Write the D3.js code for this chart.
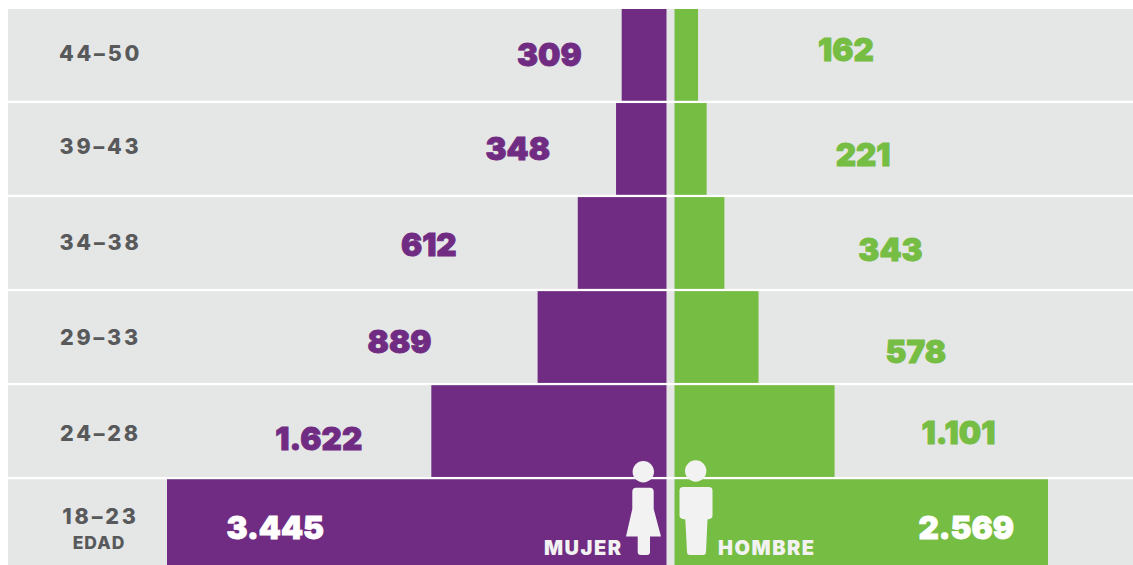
<!DOCTYPE html>
<html>
<head>
<meta charset="utf-8">
<style>
html, body { margin: 0; padding: 0; background: #fff; overflow: hidden; }
svg { display: block; }
.val { font-family: Inter, sans-serif; font-weight: 900; font-size: 31.5px; stroke-width: 0.9px; }
.age { font-family: Inter, sans-serif; font-weight: 800; font-size: 21.5px; fill: #58595b; letter-spacing: 2.8px; text-anchor: middle; }
.lbl { font-family: Inter, sans-serif; font-weight: 900; font-size: 20px; letter-spacing: 1.5px; }
</style>
</head>
<body>
<svg id="chart" width="1133" height="565"></svg>
<script src="https://cdn.jsdelivr.net/npm/d3@7"></script>
<script>
const ages = ["44-50", "39-43", "34-38", "29-33", "24-28", "18-23"];
const mujer = [309, 348, 612, 889, 1622, 3445];
const hombre = [162, 221, 343, 578, 1101, 2569];

const purple = "#702c82", green = "#76bd43", grey = "#e5e6e6", icon = "#f1f2f1";
const fmt = d3.formatLocale({decimal: ",", thousands: ".", grouping: [3], currency: ["", ""]}).format(",");

// label nudges, the original labels are not on a regular grid
const mujerGap = [40, 66, 121, 106, 69, -157];
const hombreGap = [120, 129, 134, 127, 87, -129.5];
const mujerDy = [0, 0.5, 2.5, 5, 8, 2.5];
const hombreDy = [-5, 6.5, 7.5, 15, 2, 2.5];
const ageDy = [-1, -2, 0, 0, 2, -8.5];

const svg = d3.select("#chart");

const y = d3.scaleBand().domain(ages).range([9, 571]).paddingInner(2.3 / 94);
const xM = d3.scaleLinear().domain([0, 3445]).range([666.5, 167]);
const xH = d3.scaleLinear().domain([0, 2569]).range([674.5, 1048]);

// Grey rows
svg.selectAll(".row")
  .data(ages)
  .enter()
  .append("rect")
  .attr("x", 8)
  .attr("y", d => y(d))
  .attr("width", 1125)
  .attr("height", y.bandwidth())
  .attr("fill", grey);

// Bars
svg.selectAll(".bar-m")
  .data(mujer)
  .enter()
  .append("rect")
  .attr("x", d => xM(d))
  .attr("y", (d, i) => y(ages[i]))
  .attr("width", d => xM(0) - xM(d))
  .attr("height", y.bandwidth())
  .attr("fill", purple);

svg.selectAll(".bar-h")
  .data(hombre)
  .enter()
  .append("rect")
  .attr("x", xH(0))
  .attr("y", (d, i) => y(ages[i]))
  .attr("width", d => xH(d) - xH(0))
  .attr("height", y.bandwidth())
  .attr("fill", green);

// Values
const rowMid = i => y(ages[i]) + y.bandwidth() / 2;
const insideRow = ages.length - 1;

svg.selectAll(".val-m")
  .data(mujer)
  .enter()
  .append("text")
  .attr("class", "val")
  .attr("x", (d, i) => xM(d) - mujerGap[i])
  .attr("y", (d, i) => rowMid(i) + mujerDy[i])
  .attr("dy", "0.35em")
  .attr("text-anchor", "end")
  .attr("fill", (d, i) => i === insideRow ? "#fff" : purple)
  .attr("stroke", (d, i) => i === insideRow ? "#fff" : purple)
  .text(d => fmt(d));

svg.selectAll(".val-h")
  .data(hombre)
  .enter()
  .append("text")
  .attr("class", "val")
  .attr("x", (d, i) => xH(d) + hombreGap[i])
  .attr("y", (d, i) => rowMid(i) + hombreDy[i])
  .attr("dy", "0.35em")
  .attr("fill", (d, i) => i === insideRow ? "#fff" : green)
  .attr("stroke", (d, i) => i === insideRow ? "#fff" : green)
  .text(d => fmt(d));

// Age labels
svg.selectAll(".age")
  .data(ages)
  .enter()
  .append("text")
  .attr("class", "age")
  .attr("x", 100.5)
  .attr("y", (d, i) => rowMid(i) + ageDy[i])
  .attr("dy", "0.35em")
  .text(d => d.replace("-", "\u2013"));

svg.append("text").attr("x", 99).attr("y", 549)
  .attr("text-anchor", "middle")
  .attr("font-family", "Inter, sans-serif").attr("font-weight", 800)
  .attr("font-size", 17.5).attr("letter-spacing", 1).attr("fill", "#58595b")
  .text("EDAD");

svg.append("text").attr("class", "lbl").attr("x", 544).attr("y", 555).attr("fill", "#f1f2f1").text("MUJER");
svg.append("text").attr("class", "lbl").attr("x", 718).attr("y", 555).attr("fill", "#f1f2f1").text("HOMBRE");

// Icons
svg.append("circle").attr("cx", 643.3).attr("cy", 471.7).attr("r", 10.7).attr("fill", icon);
svg.append("path").attr("fill", icon)
  .attr("d", "M636 487.7H650Q653.7 487.7 653.7 491.5V509L661 536.5H650V552Q650 555 647 555H640.7Q637.7 555 637.7 552V536.5H626L632.3 509V491.5Q632.3 487.7 636 487.7Z");
svg.append("circle").attr("cx", 695.7).attr("cy", 471).attr("r", 10.7).attr("fill", icon);
svg.append("path").attr("fill", icon)
  .attr("d", "M683 487H709Q712.5 487 712.5 490.5V516Q712.5 518.5 707.5 519.5L706 552Q706 555 703 555H690Q687 555 687 552L685.3 519.5Q679.5 518.5 679.5 516V490.5Q679.5 487 683 487Z");
</script>
</body>
</html>
